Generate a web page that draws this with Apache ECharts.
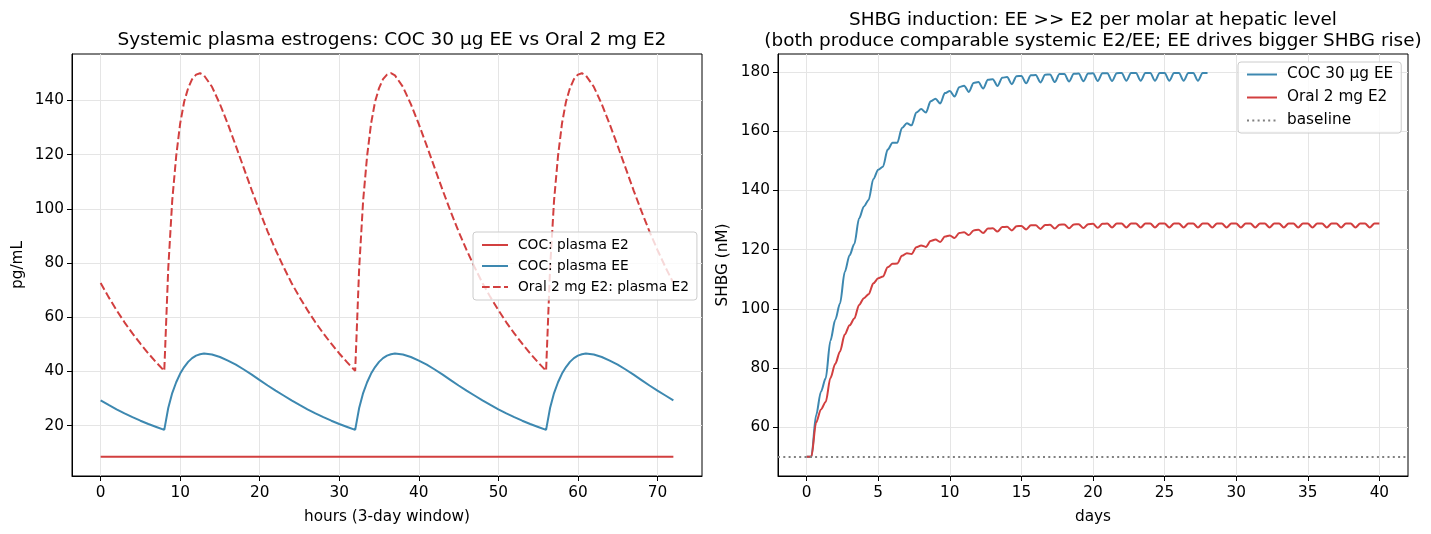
<!DOCTYPE html>
<html>
<head>
<meta charset="utf-8">
<title>Plasma estrogens and SHBG</title>
<script src="https://cdn.jsdelivr.net/npm/echarts@6.0.0/dist/echarts.min.js"></script>
<style>
  html, body { margin: 0; padding: 0; background: #fff; }
  #main { width: 1431px; height: 534px; }
</style>
</head>
<body>
<div id="main"></div>
<script>
// left panel: hours over a 3-day window
const hours = [
  0, 1, 2, 3, 4, 5, 6, 7, 8,
  8.5, 9, 9.5, 10, 10.5, 11, 11.5, 12, 12.5,
  13, 14, 15, 16, 17, 18, 19, 20, 21, 22, 23, 24, 25, 26, 27, 28, 29, 30, 31, 32,
  32.5, 33, 33.5, 34, 34.5, 35, 35.5, 36, 36.5,
  37, 38, 39, 40, 41, 42, 43, 44, 45, 46, 47, 48, 49, 50, 51, 52, 53, 54, 55, 56,
  56.5, 57, 57.5, 58, 58.5, 59, 59.5, 60, 60.5,
  61, 62, 63, 64, 65, 66, 67, 68, 69, 70, 71, 72
];
const oralE2 = [
  72.6, 67.4, 62.6, 58.1, 54.0, 50.2, 46.6, 43.3, 40.2,
  78, 103, 119.5, 131.5, 139.5, 144.5, 147.8, 149.5, 150,
  149.2, 145.0, 138.6, 131.2, 123.2, 115.0, 106.8, 99.0, 91.6, 84.8, 78.5, 72.6, 67.4, 62.6, 58.1, 54.0, 50.2, 46.6, 43.3, 40.2,
  78, 103, 119.5, 131.5, 139.5, 144.5, 147.8, 149.5, 150,
  149.2, 145.0, 138.6, 131.2, 123.2, 115.0, 106.8, 99.0, 91.6, 84.8, 78.5, 72.6, 67.4, 62.6, 58.1, 54.0, 50.2, 46.6, 43.3, 40.2,
  78, 103, 119.5, 131.5, 139.5, 144.5, 147.8, 149.5, 150,
  149.2, 145.0, 138.6, 131.2, 123.2, 115.0, 106.8, 99.0, 91.6, 84.8, 78.5, 72.6
];
const cocEE = [
  29.3, 27.6, 26.0, 24.5, 23.1, 21.8, 20.6, 19.5, 18.4,
  26.5, 32, 36, 39.2, 41.6, 43.5, 44.9, 45.8, 46.3,
  46.6, 46.2, 45.3, 44.0, 42.5, 40.7, 38.8, 36.8, 34.8, 32.9, 31.1, 29.3, 27.6, 26.0, 24.5, 23.1, 21.8, 20.6, 19.5, 18.4,
  26.5, 32, 36, 39.2, 41.6, 43.5, 44.9, 45.8, 46.3,
  46.6, 46.2, 45.3, 44.0, 42.5, 40.7, 38.8, 36.8, 34.8, 32.9, 31.1, 29.3, 27.6, 26.0, 24.5, 23.1, 21.8, 20.6, 19.5, 18.4,
  26.5, 32, 36, 39.2, 41.6, 43.5, 44.9, 45.8, 46.3,
  46.6, 46.2, 45.3, 44.0, 42.5, 40.7, 38.8, 36.8, 34.8, 32.9, 31.1, 29.3
];
const cocE2Hours = [0, 72];
const cocE2 = [8.5, 8.5];

// right panel: days (dose kink, mid-day, end of day)
const e2Days = [
  0,
  0.33, 0.66, 1, 1.33, 1.66, 2, 2.33, 2.66, 3, 3.33, 3.66, 4, 4.33, 4.66, 5,
  5.33, 5.66, 6, 6.33, 6.66, 7, 7.33, 7.66, 8, 8.33, 8.66, 9, 9.33, 9.66, 10,
  10.33, 10.66, 11, 11.33, 11.66, 12, 12.33, 12.66, 13, 13.33, 13.66, 14, 14.33, 14.66, 15,
  15.33, 15.66, 16, 16.33, 16.66, 17, 17.33, 17.66, 18, 18.33, 18.66, 19, 19.33, 19.66, 20,
  20.33, 20.66, 21, 21.33, 21.66, 22, 22.33, 22.66, 23, 23.33, 23.66, 24, 24.33, 24.66, 25,
  25.33, 25.66, 26, 26.33, 26.66, 27, 27.33, 27.66, 28, 28.33, 28.66, 29, 29.33, 29.66, 30,
  30.33, 30.66, 31, 31.33, 31.66, 32, 32.33, 32.66, 33, 33.33, 33.66, 34, 34.33, 34.66, 35,
  35.33, 35.66, 36, 36.33, 36.66, 37, 37.33, 37.66, 38, 38.33, 38.66, 39, 39.33, 39.66, 40
];
const shbgE2 = [
  50,
  50, 61.5, 66, 68.5, 76.6, 81.4, 85.6, 91.3, 94.4, 96.7, 101.3, 103.6, 104.9, 108.6, 110.3,
  110.9, 114.0, 115.2, 115.3, 117.9, 118.8, 118.5, 120.8, 121.4, 120.9, 122.9, 123.4, 122.6, 124.4, 124.8,
  123.9, 125.6, 125.9, 124.9, 126.5, 126.7, 125.6, 127.1, 127.2, 126.1, 127.6, 127.7, 126.5, 127.9, 128.0,
  126.8, 128.2, 128.2, 127.0, 128.3, 128.4, 127.1, 128.4, 128.5, 127.2, 128.5, 128.6, 127.3, 128.6, 128.7,
  127.4, 128.7, 128.8, 127.5, 128.8, 128.8, 127.5, 128.8, 128.8, 127.5, 128.8, 128.8, 127.5, 128.8, 128.8,
  127.5, 128.8, 128.8, 127.5, 128.8, 128.8, 127.5, 128.8, 128.8, 127.5, 128.8, 128.8, 127.5, 128.8, 128.8,
  127.5, 128.8, 128.8, 127.5, 128.8, 128.8, 127.5, 128.8, 128.8, 127.5, 128.8, 128.8, 127.5, 128.8, 128.8,
  127.5, 128.8, 128.8, 127.5, 128.8, 128.8, 127.5, 128.8, 128.8, 127.5, 128.8, 128.8, 127.5, 128.8, 128.8
];
const eeDays = [
  0,
  0.33, 0.66, 1, 1.33, 1.66, 2, 2.33, 2.66, 3, 3.33, 3.66, 4, 4.33, 4.66, 5,
  5.33, 5.66, 6, 6.33, 6.66, 7, 7.33, 7.66, 8, 8.33, 8.66, 9, 9.33, 9.66, 10,
  10.33, 10.66, 11, 11.33, 11.66, 12, 12.33, 12.66, 13, 13.33, 13.66, 14, 14.33, 14.66, 15,
  15.33, 15.66, 16, 16.33, 16.66, 17, 17.33, 17.66, 18, 18.33, 18.66, 19, 19.33, 19.66, 20,
  20.33, 20.66, 21, 21.33, 21.66, 22, 22.33, 22.66, 23, 23.33, 23.66, 24, 24.33, 24.66, 25,
  25.33, 25.66, 26, 26.33, 26.66, 27, 27.33, 27.66, 28
];
const shbgEE = [
  50,
  50, 64, 72, 76.5, 89.2, 96.3, 101.8, 112.4, 118.1, 121.9, 130.5, 134.6, 136.8, 143.9, 147.0,
  148.0, 153.8, 156.1, 156.1, 161.1, 162.7, 162.0, 166.3, 167.5, 166.3, 170.1, 171.0, 169.4, 172.9, 173.6,
  171.7, 174.9, 175.4, 173.3, 176.3, 176.6, 174.4, 177.4, 177.6, 175.3, 178.1, 178.3, 175.9, 178.6, 178.7,
  176.2, 178.9, 179.0, 176.5, 179.1, 179.2, 176.6, 179.3, 179.3, 176.8, 179.4, 179.5, 176.9, 179.5, 179.6,
  177.0, 179.6, 179.6, 177.0, 179.6, 179.7, 177.1, 179.7, 179.7, 177.1, 179.7, 179.7, 177.1, 179.7, 179.7,
  177.1, 179.7, 179.7, 177.1, 179.7, 179.7, 177.1, 179.7, 179.7
];
const shbgBaseline = 50;

// tick labels
const hourTicks = [0, 10, 20, 30, 40, 50, 60, 70];
const pgTicks = [20, 40, 60, 80, 100, 120, 140];
const dayTicks = [0, 5, 10, 15, 20, 25, 30, 35, 40];
const shbgTicks = [60, 80, 100, 120, 140, 160, 180];

const RED = '#d23f3f';
const BLUE = '#3d88b0';
const GREY = '#808080';
const FONT = 'DejaVu Sans';
const TICK_FS = 15.3;

function pairs(xs, ys) {
  return xs.map((x, i) => [x, ys[i]]);
}

function valueAxis(min, max, ticks, gridIndex, name, nameGap, labelMargin) {
  return {
    type: 'value',
    gridIndex: gridIndex,
    min: min,
    max: max,
    name: name,
    nameGap: nameGap,
    nameLocation: 'middle',
    nameTextStyle: { color: '#000', fontSize: TICK_FS, fontFamily: FONT },
    axisLine: { show: true, onZero: false, lineStyle: { color: '#000', width: 1 } },
    axisTick: { show: true, length: 5, customValues: ticks, lineStyle: { color: '#000', width: 1 } },
    axisLabel: { customValues: ticks, color: '#000', fontSize: TICK_FS, fontFamily: FONT, margin: labelMargin },
    splitLine: { show: true, lineStyle: { color: '#e5e5e5', width: 1 } }
  };
}

function legendBox(names, left, top, fontSize, itemWidth, itemGap, padding) {
  return {
    data: names,
    orient: 'vertical', left: left, top: top,
    itemWidth: itemWidth, itemHeight: 14, itemGap: itemGap, padding: padding,
    itemStyle: { opacity: 0 },
    backgroundColor: 'rgba(255,255,255,0.8)', borderColor: '#cccccc', borderWidth: 1, borderRadius: 3,
    textStyle: { fontSize: fontSize, lineHeight: 14, color: '#000', fontFamily: FONT, padding: [0, 0, 0, 5] }
  };
}

const myChart = echarts.init(document.getElementById('main'), null, { renderer: 'canvas' });

const option = {
  animation: false,
  backgroundColor: '#fff',
  textStyle: { fontFamily: FONT },
  title: [
    {
      text: 'Systemic plasma estrogens: COC 30 μg EE vs Oral 2 mg E2',
      left: 392, top: 29, textAlign: 'center', padding: 0,
      textStyle: { fontSize: 18.5, fontWeight: 'normal', color: '#000', fontFamily: FONT, lineHeight: 23 }
    },
    {
      text: 'SHBG induction: EE >> E2 per molar at hepatic level\n(both produce comparable systemic E2/EE; EE drives bigger SHBG rise)',
      left: 1093, top: 9, textAlign: 'center', padding: 0,
      textStyle: { fontSize: 18.4, fontWeight: 'normal', color: '#000', fontFamily: FONT, lineHeight: 21.5 }
    }
  ],
  grid: [
    { left: 72, top: 54, width: 630, height: 422, show: true, borderColor: '#000', borderWidth: 1, outerBoundsMode: 'none' },
    { left: 778, top: 54, width: 630, height: 422, show: true, borderColor: '#000', borderWidth: 1, outerBoundsMode: 'none' }
  ],
  xAxis: [
    valueAxis(-3.6, 75.6, hourTicks, 0, 'hours (3-day window)', 34, 10),
    valueAxis(-2, 42, dayTicks, 1, 'days', 34, 10)
  ],
  yAxis: [
    valueAxis(1.4, 157.1, pgTicks, 0, 'pg/mL', 46, 8),
    valueAxis(43.5, 186.1, shbgTicks, 1, 'SHBG (nM)', 47, 8)
  ],
  legend: [
    legendBox(['COC: plasma E2', 'COC: plasma EE', 'Oral 2 mg E2: plasma E2'], 473, 232, 13.75, 26, 7, [6, 8]),
    legendBox(['COC 30 μg EE', 'Oral 2 mg E2', 'baseline'], 1238, 62, 15.3, 30, 8, [5, 8])
  ],
  series: [
    {
      name: 'COC: plasma E2', type: 'line', xAxisIndex: 0, yAxisIndex: 0,
      data: pairs(cocE2Hours, cocE2), symbol: 'none',
      lineStyle: { color: RED, width: 2 }, itemStyle: { color: RED }
    },
    {
      name: 'COC: plasma EE', type: 'line', xAxisIndex: 0, yAxisIndex: 0,
      data: pairs(hours, cocEE), symbol: 'none',
      lineStyle: { color: BLUE, width: 2 }, itemStyle: { color: BLUE }
    },
    {
      name: 'Oral 2 mg E2: plasma E2', type: 'line', xAxisIndex: 0, yAxisIndex: 0,
      data: pairs(hours, oralE2), symbol: 'none',
      lineStyle: { color: RED, width: 2, type: [7.7, 3.3] }, itemStyle: { color: RED }
    },
    {
      name: 'COC 30 μg EE', type: 'line', xAxisIndex: 1, yAxisIndex: 1,
      data: pairs(eeDays, shbgEE), symbol: 'none', smooth: 0.3, smoothMonotone: 'x',
      lineStyle: { color: BLUE, width: 2 }, itemStyle: { color: BLUE }
    },
    {
      name: 'Oral 2 mg E2', type: 'line', xAxisIndex: 1, yAxisIndex: 1,
      data: pairs(e2Days, shbgE2), symbol: 'none', smooth: 0.3, smoothMonotone: 'x',
      lineStyle: { color: RED, width: 2 }, itemStyle: { color: RED }
    },
    {
      name: 'baseline', type: 'line', xAxisIndex: 1, yAxisIndex: 1,
      data: [], symbol: 'none',
      lineStyle: { color: GREY, width: 1.8, type: [2, 3.3] }, itemStyle: { color: GREY },
      markLine: {
        silent: true, symbol: 'none', label: { show: false },
        lineStyle: { color: GREY, width: 1.8, type: [2, 3.3] },
        data: [{ yAxis: shbgBaseline }]
      }
    }
  ]
};

myChart.setOption(option);
</script>
</body>
</html>
